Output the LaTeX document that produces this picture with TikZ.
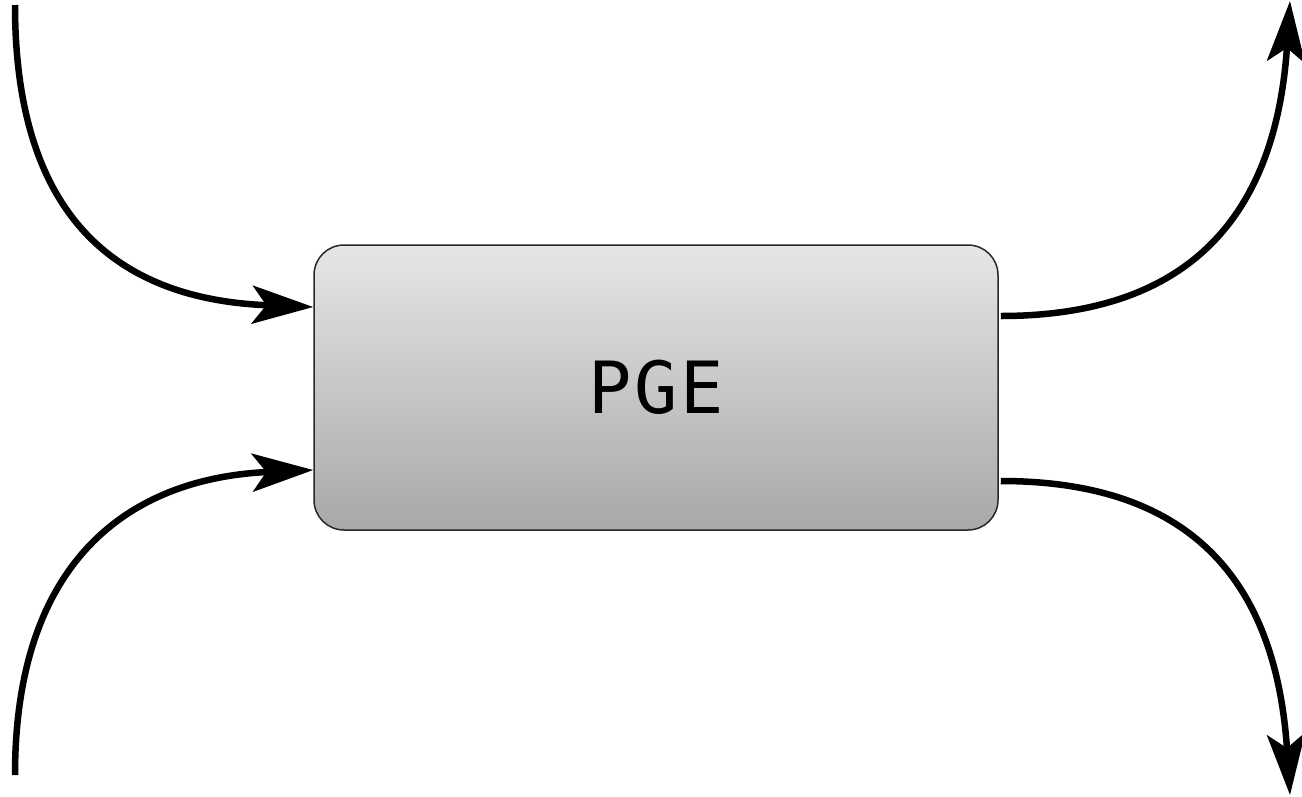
\documentclass[tikz,border=0pt]{standalone}
\usepackage{fontspec}
\setmonofont{DejaVu Sans Mono}[LetterSpace=4]
\usetikzlibrary{arrows.meta}
\definecolor{boxtop}{RGB}{230,230,230}
\definecolor{boxbottom}{RGB}{168,168,168}
\definecolor{boxedge}{RGB}{40,40,40}
\begin{document}
\begin{tikzpicture}[x=1pt,y=-1pt,
  block/.style={draw=boxedge,line width=1.5pt,rounded corners=30pt,
    top color=boxtop,bottom color=boxbottom,
    minimum width=684pt,minimum height=285pt,inner sep=0pt,
    font=\ttfamily\fontsize{72}{80}\selectfont},
  flow/.style={line width=6.5pt,-{Stealth[length=61pt,width=38pt,inset=14pt]}}]
\useasboundingbox (0,0) rectangle (1302,796);
\node[block] (pge) at (656,387.5) {PGE};
% free ends of the four flows
\coordinate (inA) at (15,5);
\coordinate (inB) at (15,775);
\coordinate (outA) at (1290,1);
\coordinate (outB) at (1290,795);
% inflows
\draw[flow] (inA) .. controls (15,230) and (130,300) .. ([yshift=80.5pt]pge.west);
\draw[flow] (inB) .. controls (15,560) and (130,478) .. ([yshift=-82.5pt]pge.west);
% outflows
\draw[flow] ([xshift=2pt,yshift=71.5pt]pge.east) .. controls (1190,316) and (1276,215) .. (outA);
\draw[flow] ([xshift=2pt,yshift=-93.5pt]pge.east) .. controls (1190,481) and (1276,580) .. (outB);
\end{tikzpicture}
\end{document}
